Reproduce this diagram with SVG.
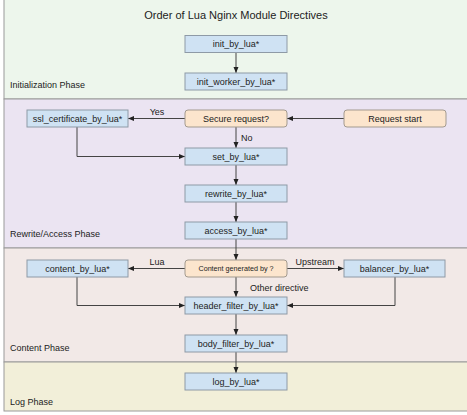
<svg xmlns="http://www.w3.org/2000/svg" width="467" height="415" viewBox="0 0 467 415">
<style>
.band{stroke:#9a9a9a;stroke-width:1}
.box{fill:#cfe2f3;stroke:#8e9aa6;stroke-width:1}
.dec{fill:#fce5cd;stroke:#a39a8f;stroke-width:1}
.t{font-family:"Liberation Sans",Arial,sans-serif;font-size:9px;fill:#222;text-anchor:middle}
.pl{font-family:"Liberation Sans",Arial,sans-serif;font-size:9px;fill:#222}
.lbl{font-family:"Liberation Sans",Arial,sans-serif;font-size:9px;fill:#222}
.c{fill:none;stroke:#444;stroke-width:1}
</style>
<defs>
<marker id="ah" markerUnits="userSpaceOnUse" markerWidth="6" markerHeight="6" refX="6" refY="3" orient="auto">
<path d="M0,0.5 L6,3 L0,5.5 z" fill="#222"/>
</marker>
</defs>
<rect width="467" height="415" fill="#ffffff"/>
<g id="phases">
<rect class="band" x="4" y="-1" width="470" height="100" fill="#edf6ec"/>
<rect class="band" x="4" y="99" width="470" height="149" fill="#ebe4f2"/>
<rect class="band" x="4" y="248" width="470" height="114" fill="#f2e9e7"/>
<rect class="band" x="4" y="362" width="470" height="49" fill="#f2efd9"/>
<text x="236" y="19" style="font-family:'Liberation Sans',Arial,sans-serif;font-size:11px;fill:#222;text-anchor:middle">Order of Lua Nginx Module Directives</text>
<text class="pl" x="10" y="88">Initialization Phase</text>
<text class="pl" x="10" y="237">Rewrite/Access Phase</text>
<text class="pl" x="10" y="351">Content Phase</text>
<text class="pl" x="10" y="405">Log Phase</text>
</g>
<g id="connectors">
<path class="c" d="M236,52.5 V73" marker-end="url(#ah)"/>
<path class="c" d="M344,118.5 H287" marker-end="url(#ah)"/>
<path class="c" d="M185,118.5 H128" marker-end="url(#ah)"/>
<path class="c" d="M236,127 V148" marker-end="url(#ah)"/>
<path class="c" d="M77,127 V156.5 H185" marker-end="url(#ah)"/>
<path class="c" d="M236,165 V185" marker-end="url(#ah)"/>
<path class="c" d="M236,202 V222" marker-end="url(#ah)"/>
<path class="c" d="M236,239 V260" marker-end="url(#ah)"/>
<path class="c" d="M185,268.5 H128" marker-end="url(#ah)"/>
<path class="c" d="M287,268.5 H344" marker-end="url(#ah)"/>
<path class="c" d="M236,277 V297" marker-end="url(#ah)"/>
<path class="c" d="M77,277 V305.5 H185" marker-end="url(#ah)"/>
<path class="c" d="M395,277 V305.5 H287" marker-end="url(#ah)"/>
<path class="c" d="M236,314 V335" marker-end="url(#ah)"/>
<path class="c" d="M236,352 V373" marker-end="url(#ah)"/>
<text class="lbl" x="157" y="115" text-anchor="middle">Yes</text>
<text class="lbl" x="241" y="141">No</text>
<text class="lbl" x="157" y="265" text-anchor="middle">Lua</text>
<text class="lbl" x="315" y="265" text-anchor="middle">Upstream</text>
<text class="lbl" x="250" y="291">Other directive</text>
</g>
<g id="init_by_lua"><rect class="box" x="185" y="35.5" width="102" height="17"/><text class="t" x="236" y="47">init_by_lua*</text></g>
<g id="init_worker_by_lua"><rect class="box" x="185" y="73" width="102" height="17"/><text class="t" x="236" y="84.5">init_worker_by_lua*</text></g>
<g id="ssl_certificate_by_lua"><rect class="box" x="27" y="110" width="101" height="17"/><text class="t" x="77.5" y="121.5">ssl_certificate_by_lua*</text></g>
<g id="secure_request"><rect class="dec" x="185" y="110" width="102" height="17" rx="3"/><text class="t" x="236" y="121.5">Secure request?</text></g>
<g id="request_start"><rect class="dec" x="344" y="110" width="102" height="17" rx="3"/><text class="t" x="395" y="121.5">Request start</text></g>
<g id="set_by_lua"><rect class="box" x="185" y="148" width="102" height="17"/><text class="t" x="236" y="159.5">set_by_lua*</text></g>
<g id="rewrite_by_lua"><rect class="box" x="185" y="185" width="102" height="17"/><text class="t" x="236" y="196.5">rewrite_by_lua*</text></g>
<g id="access_by_lua"><rect class="box" x="185" y="222" width="102" height="17"/><text class="t" x="236" y="233.5">access_by_lua*</text></g>
<g id="content_by_lua"><rect class="box" x="27" y="260" width="101" height="17"/><text class="t" x="77.5" y="271.5">content_by_lua*</text></g>
<g id="content_generated_by"><rect class="dec" x="185" y="260" width="102" height="17" rx="3"/><text class="t" x="236" y="271" style="font-size:7.2px">Content generated by ?</text></g>
<g id="balancer_by_lua"><rect class="box" x="344" y="260" width="101" height="17"/><text class="t" x="394.5" y="271.5">balancer_by_lua*</text></g>
<g id="header_filter_by_lua"><rect class="box" x="185" y="297" width="102" height="17"/><text class="t" x="236" y="308.5">header_filter_by_lua*</text></g>
<g id="body_filter_by_lua"><rect class="box" x="185" y="335" width="102" height="17"/><text class="t" x="236" y="346.5">body_filter_by_lua*</text></g>
<g id="log_by_lua"><rect class="box" x="185" y="373" width="102" height="17"/><text class="t" x="236" y="384.5">log_by_lua*</text></g>
</svg>
